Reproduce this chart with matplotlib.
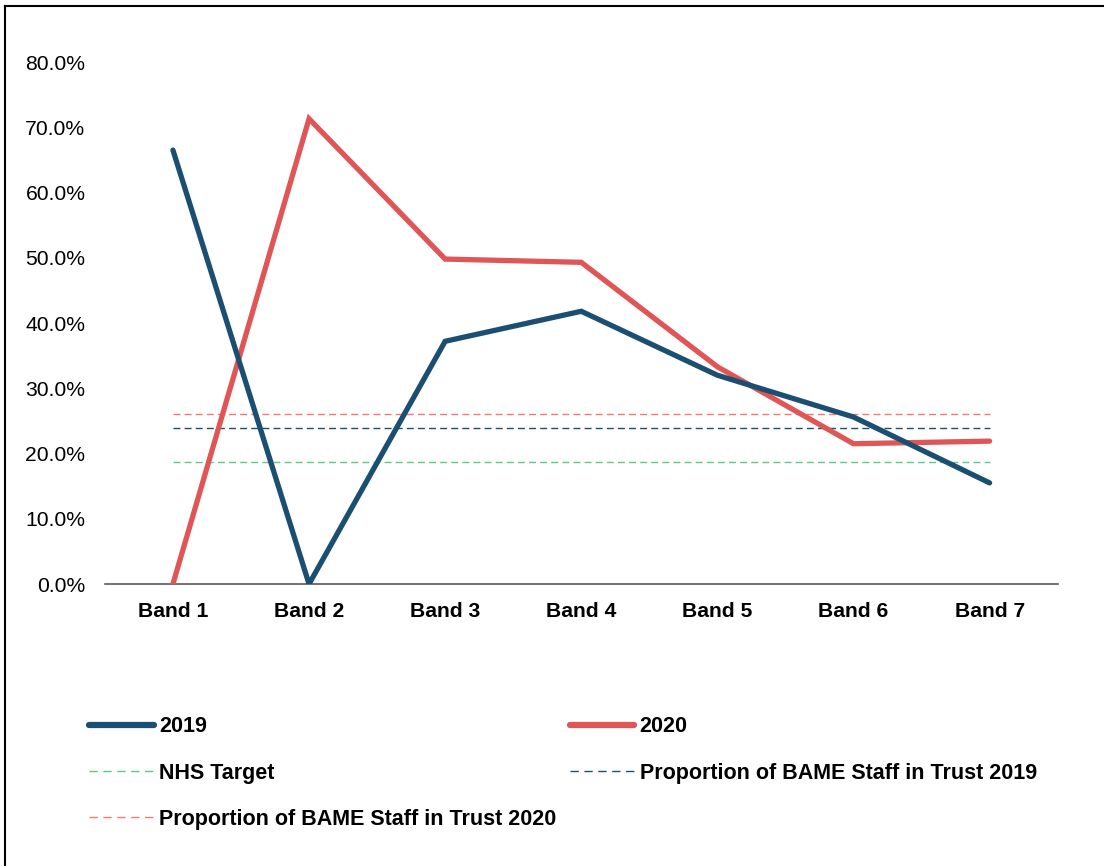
import numpy as np
import matplotlib
matplotlib.use("Agg")
import matplotlib.pyplot as plt
from matplotlib.lines import Line2D
from matplotlib.ticker import PercentFormatter

plt.rcParams['font.family'] = ['Liberation Sans', 'DejaVu Sans']

bands = ['Band 1', 'Band 2', 'Band 3', 'Band 4', 'Band 5', 'Band 6', 'Band 7']
share_2019 = [0.665, 0.0, 0.372, 0.418, 0.320, 0.256, 0.155]
share_2020 = [0.0, 0.713, 0.498, 0.493, 0.333, 0.215, 0.219]

nhs_target = 0.187
bame_trust_2019 = 0.239
bame_trust_2020 = 0.261

navy = '#1B4F72'
red = '#E05656'

fig = plt.figure(figsize=(11.04, 8.66), dpi=100)
ax = fig.add_axes([0.095, 0.3256, 0.863, 0.6028])

x = np.arange(len(bands))
ax.plot(x, share_2019, color=navy, lw=3.8, solid_capstyle='round', solid_joinstyle='miter', zorder=4)
ax.plot(x, share_2020, color=red, lw=3.8, solid_capstyle='round', solid_joinstyle='miter', zorder=3)

dash = (0, (5, 3))
ax.plot(x, [nhs_target] * len(x), color='#5CC98B', lw=1.0, linestyle=dash, zorder=2)
ax.plot(x, [bame_trust_2019] * len(x), color=navy, lw=1.0, linestyle=dash, zorder=2)
ax.plot(x, [bame_trust_2020] * len(x), color='#F07A7A', lw=1.0, linestyle=dash, zorder=2)

ax.set_xlim(-0.5, len(bands) - 0.5)
ax.set_ylim(0, 0.8)
ax.set_yticks(np.arange(0, 0.81, 0.1))
ax.yaxis.set_major_formatter(PercentFormatter(1.0, decimals=1))
ax.set_xticks(x)
ax.set_xticklabels(bands, fontweight='bold')
ax.tick_params(axis='y', length=0, pad=14, labelsize=15.2)
ax.tick_params(axis='x', length=0, pad=13, labelsize=15.2)

for side in ['top', 'right', 'left']:
    ax.spines[side].set_visible(False)
ax.spines['bottom'].set_color('#595959')
ax.spines['bottom'].set_linewidth(1.2)

leg_dash = (0, (6, 4))
handles = [
    Line2D([], [], color=navy, lw=4.5, solid_capstyle='round'),
    Line2D([], [], color='#5CC98B', lw=1.0, linestyle=leg_dash),
    Line2D([], [], color='#F07A7A', lw=1.0, linestyle=leg_dash),
    Line2D([], [], color=red, lw=4.5, solid_capstyle='round'),
    Line2D([], [], color=navy, lw=1.0, linestyle=leg_dash),
]
labels = ['2019', 'NHS Target', 'Proportion of BAME Staff in Trust 2020',
          '2020', 'Proportion of BAME Staff in Trust 2019']
leg = fig.legend(handles, labels, ncol=2, loc='upper left',
                 bbox_to_anchor=(0.081, 0.173), frameon=False,
                 prop={'size': 15.5, 'weight': 'bold'},
                 handlelength=3.0, handletextpad=0.25,
                 columnspacing=0.6, labelspacing=1.18,
                 borderaxespad=0, borderpad=0)

# frame lines along the top and left edges
fig.add_artist(Line2D([0.0045, 1.0], [0.9935, 0.9935], transform=fig.transFigure, color='black', lw=1.5))
fig.add_artist(Line2D([0.0045, 0.0045], [0.0, 0.9935], transform=fig.transFigure, color='black', lw=1.5))

fig.savefig('out.png', dpi=100)
